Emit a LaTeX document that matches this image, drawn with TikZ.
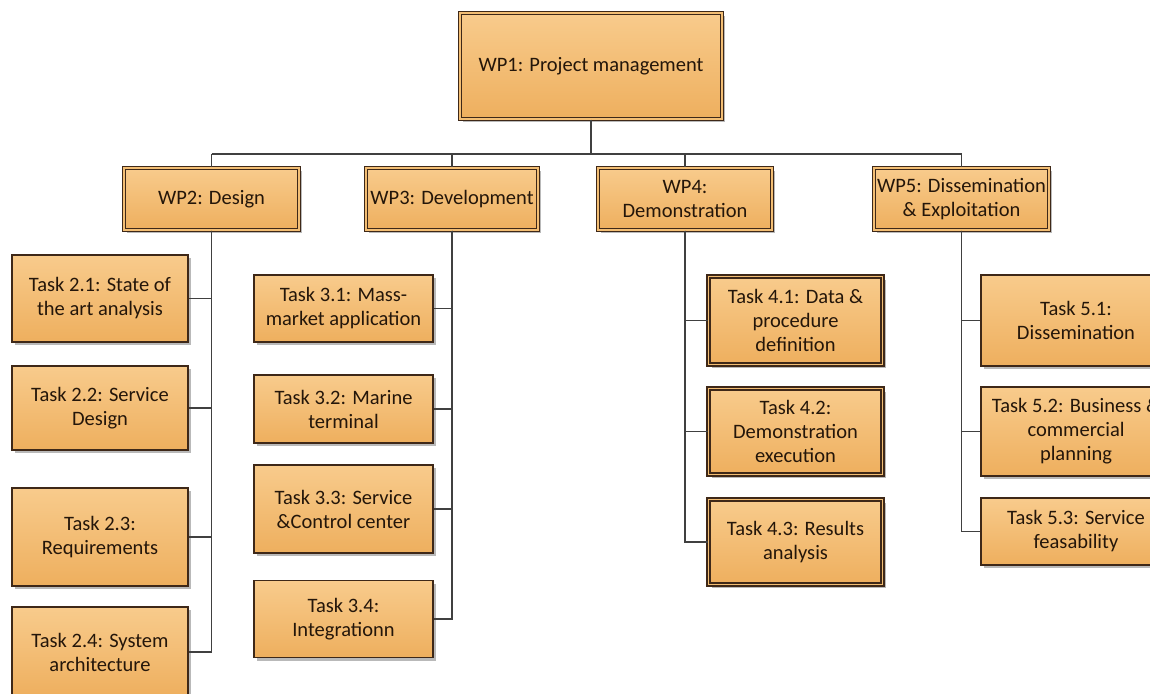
\documentclass[tikz,border=0pt]{standalone}
\usepackage{fontspec}
\setmainfont{Carlito}
\usetikzlibrary{shadows}
\definecolor{boxtop}{HTML}{F8CB8C}
\definecolor{boxbot}{HTML}{EEAF5E}
\definecolor{boxmid}{HTML}{F3BE74}
\definecolor{boxline}{HTML}{3E2818}
\definecolor{txt}{HTML}{24160A}
\definecolor{conn}{HTML}{404040}
\tikzset{
  box/.style={rectangle, draw=boxline, line width=1.5pt, top color=boxtop, bottom color=boxbot,
    align=center, inner sep=2pt, text=txt,
    font=\fontsize{20.5}{24}\selectfont,
    drop shadow={shadow xshift=3pt, shadow yshift=-3pt, fill=black!50, opacity=0.55}},
  dbox/.style={box, line width=1.4pt, double=boxmid, double distance=1.6pt},
  link/.style={draw=conn, line width=1.3pt}
}
\begin{document}
\begin{tikzpicture}[x=1pt,y=-1pt]
\useasboundingbox (0,0) rectangle (1150,693);
\clip (0,0) rectangle (1150,693);
\fill[white] (0,0) rectangle (1150,693);

% work packages
\node[dbox, minimum width=262, minimum height=106] (wp1) at (591,66) {WP1: Project management};
\node[dbox, minimum width=175, minimum height=62] (wp2) at (211.5,199) {WP2: Design};
\node[dbox, minimum width=172, minimum height=62] (wp3) at (452,199) {WP3: Development};
\node[dbox, minimum width=174, minimum height=62] (wp4) at (685,199) {WP4:\\Demonstration};
\node[dbox, minimum width=175, minimum height=62] (wp5) at (961.5,199) {WP5: Dissemination\\\& Exploitation};

% WP2 tasks
\node[box, minimum width=176, minimum height=87] (t21) at (100,298.5) {Task 2.1: State of\\the art analysis};
\node[box, minimum width=176, minimum height=84] (t22) at (100,408) {Task 2.2: Service\\Design};
\node[box, minimum width=176, minimum height=98] (t23) at (100,537) {Task 2.3:\\Requirements};
\node[box, minimum width=176, minimum height=90] (t24) at (100,652) {Task 2.4: System\\architecture};

% WP3 tasks
\node[box, minimum width=179, minimum height=67] (t31) at (343.5,308.5) {Task 3.1: Mass-\\market application};
\node[box, minimum width=179, minimum height=68] (t32) at (343.5,409) {Task 3.2: Marine\\terminal};
\node[box, minimum width=179, minimum height=88] (t33) at (343.5,509) {Task 3.3: Service\\\&Control center};
\node[box, minimum width=179, minimum height=77] (t34) at (343.5,619) {Task 3.4:\\Integrationn};

% WP4 tasks
\node[dbox, minimum width=174, minimum height=88] (t41) at (795.5,320.5) {Task 4.1: Data \&\\procedure\\definition};
\node[dbox, minimum width=174, minimum height=86] (t42) at (795.5,431.5) {Task 4.2:\\Demonstration\\execution};
\node[dbox, minimum width=174, minimum height=85] (t43) at (795.5,542) {Task 4.3: Results\\analysis};

% WP5 tasks
\node[box, minimum width=190, minimum height=91] (t51) at (1076,320.5) {Task 5.1:\\Dissemination};
\node[box, minimum width=190, minimum height=89] (t52) at (1076,431.5) {Task 5.2: Business \&\\commercial\\planning};
\node[box, minimum width=190, minimum height=67] (t53) at (1076,531.5) {Task 5.3: Service\\feasability};

% bus
\coordinate (b2) at (211.5,154);
\coordinate (b5) at (961.5,154);

\draw[link] (wp1.south) -- (wp1.south |- b2);
\draw[link] (b2) -- (b5);
\draw[link] (b2) -- (wp2.north);
\draw[link] (wp3.north |- b2) -- (wp3.north);
\draw[link] (wp4.north |- b2) -- (wp4.north);
\draw[link] (b5) -- (wp5.north);

\draw[link] (wp2.south) |- (t21.east);
\draw[link] (wp2.south) |- (t22.east);
\draw[link] (wp2.south) |- (t23.east);
\draw[link] (wp2.south) |- (t24.east);

\draw[link] (wp3.south) |- (t31.east);
\draw[link] (wp3.south) |- (t32.east);
\draw[link] (wp3.south) |- (t33.east);
\draw[link] (wp3.south) |- (t34.east);

\draw[link] (wp4.south) |- (t41.west);
\draw[link] (wp4.south) |- (t42.west);
\draw[link] (wp4.south) |- (t43.west);

\draw[link] (wp5.south) |- (t51.west);
\draw[link] (wp5.south) |- (t52.west);
\draw[link] (wp5.south) |- (t53.west);
\end{tikzpicture}
\end{document}
